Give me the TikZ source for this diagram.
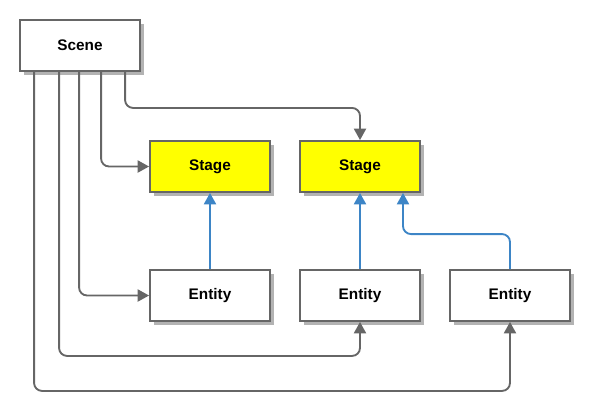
\documentclass[tikz,border=0pt]{standalone}
\usepackage{fontspec}
\setmainfont{Liberation Sans}
\usetikzlibrary{arrows.meta,calc,shadows}

\definecolor{boxline}{HTML}{666666}
\definecolor{boxshadow}{HTML}{B3B3B3}
\definecolor{linkblue}{HTML}{3D85C6}
\definecolor{stageyellow}{HTML}{FFFF00}

\tikzset{every picture/.style={line width=0.75pt}}

\begin{document}
\begin{tikzpicture}[x=0.75pt,y=0.75pt,yscale=-1,xscale=1,
  objbox/.style={draw=boxline, line width=1.4pt, fill=white, minimum width=90pt, minimum height=38.25pt, inner sep=0pt,
    font=\fontsize{11.5pt}{13pt}\selectfont\bfseries,
    drop shadow={shadow xshift=3pt, shadow yshift=-3pt, fill=boxshadow, opacity=1}},
  stagebox/.style={objbox, fill=stageyellow},
  owns/.style={draw=boxline, line width=1.4pt, rounded corners=6pt, -{Triangle[width=9pt,length=8.5pt]}},
  parent/.style={draw=linkblue, line width=1.4pt, rounded corners=6pt, -{Triangle[width=9pt,length=8.5pt]}}]
\useasboundingbox (0,0) rectangle (590,415);

% Boxes
\node [objbox] (scene) at (80,45.5) {Scene};
\node [stagebox] (stageA) at (210,166.5) {Stage};
\node [stagebox] (stageB) at (360,166.5) {Stage};
\node [objbox] (entA) at (210,295.5) {Entity};
\node [objbox] (entB) at (360,295.5) {Entity};
\node [objbox] (entC) at (510,295.5) {Entity};

% Scene links
\draw [owns] ($(scene.south west)+(15,0)$) -- ++(0,319) -| (entC.south);
\draw [owns] ($(scene.south west)+(40,0)$) -- ++(0,284) -| (entB.south);
\draw [owns] ($(scene.south west)+(60,0)$) |- (entA.west);
\draw [owns] ($(scene.south west)+(82,0)$) |- (stageA.west);
\draw [owns] ($(scene.south west)+(106,0)$) -- ++(0,36) -| (stageB.north);

% Parent links
\draw [parent] (entA.north) -- (stageA.south);
\draw [parent] (entB.north) -- (stageB.south);
\draw [parent] (entC.north) -- ++(0,-35) -| ($(stageB.south)+(43,0)$);

\end{tikzpicture}
\end{document}
